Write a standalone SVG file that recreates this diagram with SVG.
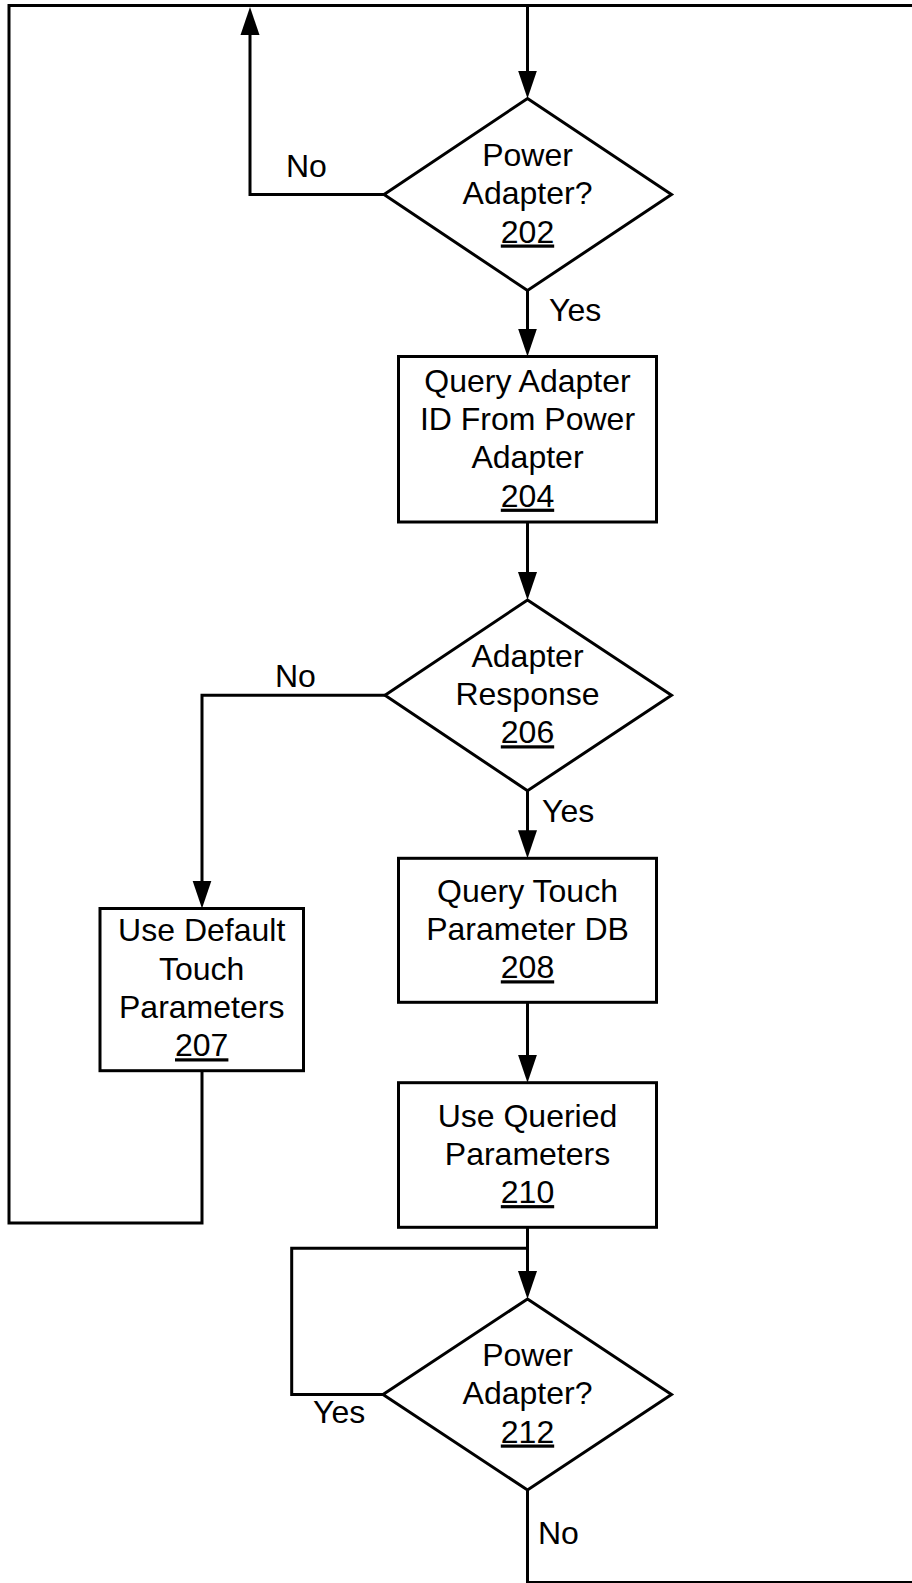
<svg xmlns="http://www.w3.org/2000/svg" width="912" height="1583" viewBox="0 0 912 1583">
<style>
.shape{fill:#fff;stroke:#000;stroke-width:3;stroke-linejoin:miter}
.conn{fill:none;stroke:#000;stroke-width:3;stroke-linejoin:miter}
text{font-family:"Liberation Sans",Arial,sans-serif;font-size:32px;fill:#000}
.c{text-anchor:middle}
.u{text-decoration:underline}
</style>
<defs>
<marker id="ah" markerUnits="userSpaceOnUse" viewBox="0 0 28 20" markerWidth="28" markerHeight="20" refX="14" refY="10" orient="auto">
<path d="M0,0.5 L28,10 L0,19.5 Z" fill="#000"/>
</marker>
</defs>
<g id="connectors">
<path class="conn" d="M202,1070.7 V1223 H9 V5.5 H912"/>
<path class="conn" d="M527.5,5.5 V84.5" marker-end="url(#ah)"/>
<path class="conn" d="M384,194.5 H250 V21" marker-end="url(#ah)"/>
<path class="conn" d="M527.5,290.5 V342.5" marker-end="url(#ah)"/>
<path class="conn" d="M527.5,522 V586" marker-end="url(#ah)"/>
<path class="conn" d="M385,695.3 H202 V894.5" marker-end="url(#ah)"/>
<path class="conn" d="M527.5,790.7 V844.3" marker-end="url(#ah)"/>
<path class="conn" d="M527.5,1002.3 V1068.7" marker-end="url(#ah)"/>
<path class="conn" d="M527.5,1227.3 V1285" marker-end="url(#ah)"/>
<path class="conn" d="M383,1394.5 H291.7 V1248.3 H527.5"/>
<path class="conn" d="M527.5,1490 V1582.5 H912"/>
<text x="286" y="176.7">No</text>
<text x="549" y="320.7">Yes</text>
<text x="275" y="686.7">No</text>
<text x="542" y="822">Yes</text>
<text x="313" y="1423.3">Yes</text>
<text x="538" y="1544">No</text>
</g>
<g id="n202">
<polygon class="shape" points="527.5,98.5 671.5,194.5 527.5,290.5 384,194.5"/>
<text class="c" x="527.5" y="165.9">Power</text>
<text class="c" x="527.5" y="204.2">Adapter?</text>
<text class="c u" x="527.5" y="242.5">202</text>
</g>
<g id="n204">
<rect class="shape" x="398.5" y="356.5" width="258" height="165.5"/>
<text class="c" x="527.5" y="391.8">Query Adapter</text>
<text class="c" x="527.5" y="430.1">ID From Power</text>
<text class="c" x="527.5" y="468.4">Adapter</text>
<text class="c u" x="527.5" y="506.7">204</text>
</g>
<g id="n206">
<polygon class="shape" points="527.5,600 671.5,695.3 527.5,790.7 385,695.3"/>
<text class="c" x="527.5" y="666.7">Adapter</text>
<text class="c" x="527.5" y="705">Response</text>
<text class="c u" x="527.5" y="743.3">206</text>
</g>
<g id="n207">
<rect class="shape" x="100" y="908.5" width="203.5" height="162.2"/>
<text class="c" x="201.7" y="941.4">Use Default</text>
<text class="c" x="201.7" y="979.7">Touch</text>
<text class="c" x="201.7" y="1018">Parameters</text>
<text class="c u" x="201.7" y="1056.3">207</text>
</g>
<g id="n208">
<rect class="shape" x="398.5" y="858.3" width="258" height="144"/>
<text class="c" x="527.5" y="901.7">Query Touch</text>
<text class="c" x="527.5" y="940">Parameter DB</text>
<text class="c u" x="527.5" y="978.3">208</text>
</g>
<g id="n210">
<rect class="shape" x="398.5" y="1082.7" width="258" height="144.6"/>
<text class="c" x="527.5" y="1126.5">Use Queried</text>
<text class="c" x="527.5" y="1164.8">Parameters</text>
<text class="c u" x="527.5" y="1203.1">210</text>
</g>
<g id="n212">
<polygon class="shape" points="527.5,1299 671.5,1394.5 527.5,1490 383,1394.5"/>
<text class="c" x="527.5" y="1365.9">Power</text>
<text class="c" x="527.5" y="1404.2">Adapter?</text>
<text class="c u" x="527.5" y="1442.5">212</text>
</g>
</svg>
